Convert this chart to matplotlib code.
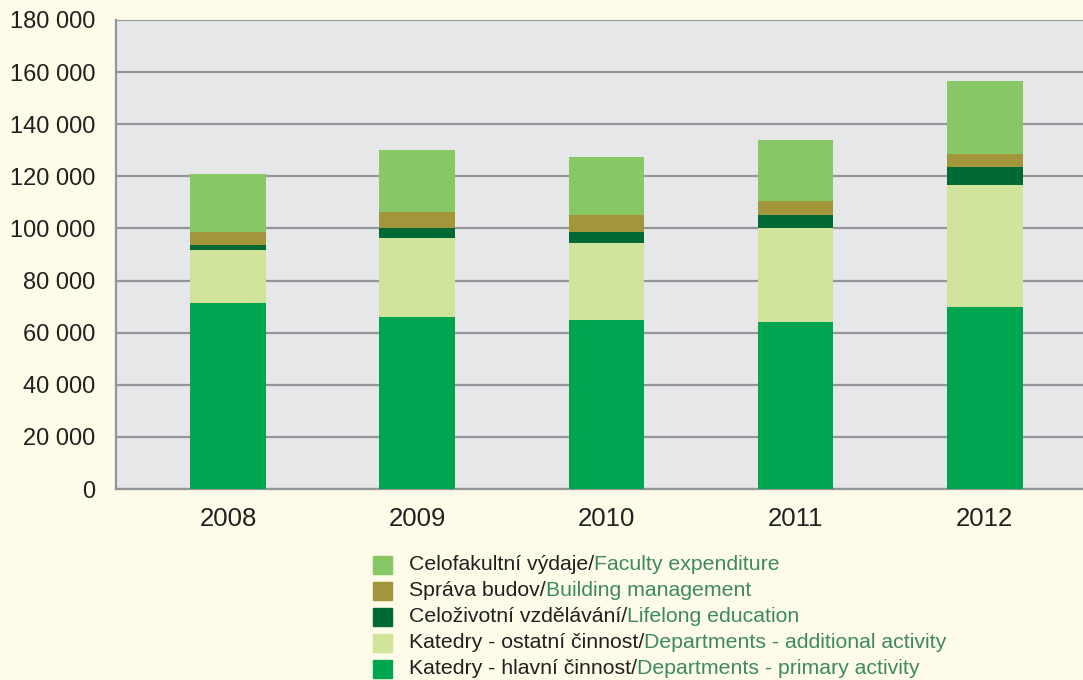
import matplotlib
matplotlib.use("Agg")
import matplotlib.pyplot as plt
from matplotlib.patches import Rectangle
import numpy as np

years = ["2008", "2009", "2010", "2011", "2012"]
primary = [71.5, 66.2, 65.0, 64.2, 70.0]
additional = [20.4, 30.0, 29.6, 35.8, 46.5]
lifelong = [1.6, 3.8, 4.2, 5.0, 7.0]
building = [5.0, 6.2, 6.2, 5.4, 5.0]
faculty = [22.3, 23.8, 22.3, 23.4, 28.0]

series = [
    (primary, "#00A550", "Katedry - hlavní činnost/", "Departments - primary activity"),
    (additional, "#D0E39A", "Katedry - ostatní činnost/", "Departments - additional activity"),
    (lifelong, "#006934", "Celoživotní vzdělávání/", "Lifelong education"),
    (building, "#A39539", "Správa budov/", "Building management"),
    (faculty, "#88C766", "Celofakultní výdaje/", "Faculty expenditure"),
]

plt.rcParams['font.family'] = ['Liberation Sans', 'DejaVu Sans']
fig = plt.figure(figsize=(10.83, 6.8), dpi=100)
fig.patch.set_facecolor("#FEFBE8")
W, H = 1083, 680
ax = fig.add_axes([116 / W, 1 - 489 / H, (1083 - 116) / W + 0.01, (489 - 20) / H])
ax.set_facecolor("#E6E7E8")

x = np.arange(len(years))
bottom = np.zeros(len(years))
for vals, color, cz, en in series:
    v = np.array(vals) * 1000
    ax.bar(x, v, 0.40, bottom=bottom, color=color, zorder=3)
    bottom += v

ax.set_ylim(0, 180000)
ax.set_xlim((116 - 228) / 189, (1083 - 228) / 189 + 0.053)
ax.set_yticks(np.arange(0, 180001, 20000))
ax.set_yticklabels(["0" if t == 0 else f"{t // 1000} 000" for t in range(0, 180001, 20000)],
                   fontsize=17, color="#231F20")
ax.set_xticks(x)
ax.set_xticklabels(years, fontsize=18.5, color="#231F20")
ax.tick_params(axis='both', length=0)
ax.tick_params(axis='x', pad=13)
ax.tick_params(axis='y', pad=15)
ax.yaxis.grid(True, color="#939598", linewidth=1.6, zorder=1)
ax.set_axisbelow(True)
for s in ["top", "right"]:
    ax.spines[s].set_visible(False)
for s in ["left", "bottom"]:
    ax.spines[s].set_color("#939598")
    ax.spines[s].set_linewidth(1.6)

# legend (manual, two-coloured labels)
rows = list(reversed(series))
for i, (vals, color, cz, en) in enumerate(rows):
    yc = 565 + 26 * i
    fig.patches.append(Rectangle((373 / W, 1 - (yc + 9) / H), 19 / W, 18 / H,
                                 transform=fig.transFigure, color=color, figure=fig))
    t = fig.text(409 / W, 1 - yc / H, cz, fontsize=15.3, color="#231F20", va="center", ha="left")
    ax.annotate(en, xy=(1, 0), xycoords=t, va="bottom", ha="left",
                fontsize=15.3, color="#3D8B5A", annotation_clip=False)

fig.savefig("out.png", dpi=100, facecolor=fig.get_facecolor())
